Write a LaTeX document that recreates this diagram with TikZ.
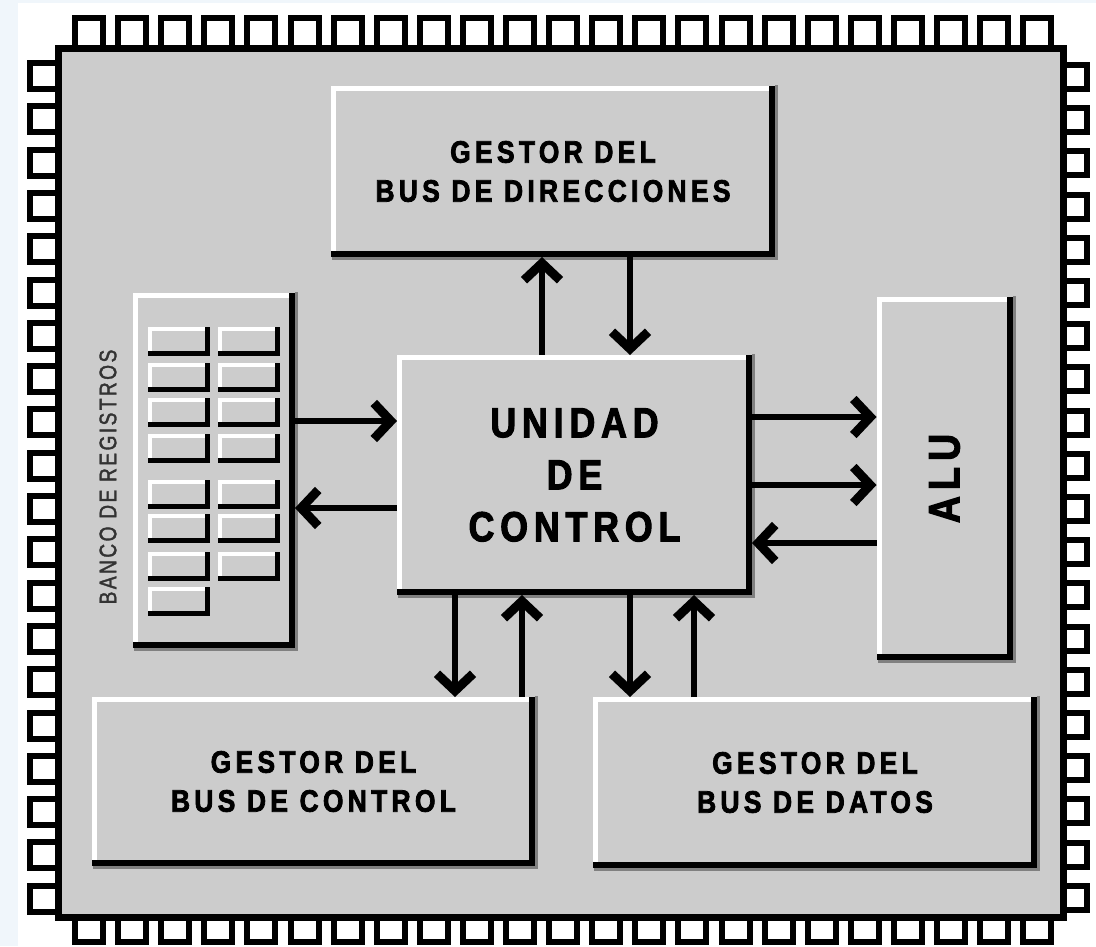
\documentclass[tikz,border=0pt]{standalone}
\usepackage{fontspec}
\usepackage{graphicx}
\usetikzlibrary{arrows.meta}
\newfontfamily\chipfont[LetterSpace=14,FakeStretch=0.85,BoldFeatures={FakeBold=2.5}]{Liberation Sans}
\newfontfamily\bancofont[LetterSpace=10,FakeStretch=0.8,FakeBold=1.5]{Liberation Sans}
\definecolor{chipgris}{RGB}{204,204,204}
\definecolor{fondo}{RGB}{240,246,251}
\definecolor{sombra}{RGB}{128,128,128}

\begin{document}
\begin{tikzpicture}[x=1pt, y=-1pt, % 以像素为单位，y 轴向下
    caja/.style={fill=chipgris, inner sep=0pt, outer sep=0pt, align=center},
    titulo/.style={font=\chipfont\bfseries\fontsize{31}{39}\selectfont},
    flecha/.style={line width=6.5pt, -{Straight Barb[length=17pt,width=36pt,line width=9pt]}}
  ]

    % 0. 背景：左侧浅蓝色细条，其余为白色
    \fill[fondo] (0,0) rectangle (1096,946);
    \fill[white] (18,3) rectangle (1096,946);
    \useasboundingbox (0,0) rectangle (1096,946);

    % 1. 芯片四周的引脚 (上下各 23 个，左右各 20 个)
    \foreach \i in {0,...,22}{
        \draw[line width=6pt, fill=white] ({75+43.1*\i}, 18) rectangle ({103+43.1*\i}, 50);
        \draw[line width=6pt, fill=white] ({75+43.1*\i}, 915) rectangle ({103+43.1*\i}, 942);
    }
    \foreach \j in {0,...,19}{
        \draw[line width=6pt, fill=white] (30, {63+43.3*\j}) rectangle (60, {89+43.3*\j});
        \draw[line width=6pt, fill=white] (1063, {65+43.2*\j}) rectangle (1087, {89+43.2*\j});
    }

    % 2. 芯片本体 (灰色，粗黑边框)
    \draw[line width=7pt, fill=chipgris] (58.5,48.5) rectangle (1063.5,917.5);

    % 3. 各功能模块
    \node[caja, titulo, minimum width=444pt, minimum height=171pt] (dir) at (553,171.5)
        {GESTOR DEL\\BUS DE DIRECCIONES};
    \node[caja, font=\chipfont\bfseries\fontsize{42}{52}\selectfont,
          minimum width=355pt, minimum height=240pt] (ctrl) at (574.5,475)
        {UNIDAD\\DE\\CONTROL};
    \node[caja, minimum width=162pt, minimum height=355pt] (banco) at (214,470.5) {};
    \node[caja, font=\chipfont\bfseries\fontsize{44}{44}\selectfont,
          minimum width=136pt, minimum height=363pt] (alu) at (944.5,478.5)
        {\rotatebox{90}{ALU}};
    \node[caja, titulo, minimum width=443pt, minimum height=169pt] (gctl) at (313.5,781.5)
        {GESTOR DEL\\BUS DE CONTROL};
    \node[caja, titulo, minimum width=444pt, minimum height=171pt] (gdat) at (815,782.5)
        {GESTOR DEL\\BUS DE DATOS};
    \node[font=\bancofont\fontsize{24}{24}\selectfont, text=black!80, rotate=90]
        (bancotxt) at (108,477) {BANCO DE REGISTROS};

    % 4. 立体边框：左上白色高光，右下黑边加灰色阴影
    \foreach \n in {dir,ctrl,banco,alu,gctl,gdat}{
        \draw[white, line width=5pt] ([xshift=2.5pt]\n.south west) -- ([xshift=2.5pt,yshift=-2.5pt]\n.north west)
            -- ([yshift=-2.5pt]\n.north east);
        \draw[sombra, line width=3pt] ([xshift=1.5pt,yshift=1pt]\n.north east)
            -- ([xshift=1.5pt,yshift=-1.5pt]\n.south east) -- ([xshift=1pt,yshift=-1.5pt]\n.south west);
        \draw[line width=6pt] ([xshift=-3pt]\n.north east) -- ([xshift=-3pt,yshift=3pt]\n.south east)
            -- ([yshift=3pt]\n.south west);
    }

    % 5. 寄存器组中的小寄存器 (左列 8 个，右列 7 个)
    \foreach \x/\filas in {148/{327,363,398,434,480,514,552,587}, 218/{327,363,398,434,480,514,552}}{
        \foreach \y in \filas{
            \draw[white, line width=4pt] ({\x+2},{\y+27}) -- ({\x+2},{\y+2}) -- ({\x+58},{\y+2});
            \draw[line width=5pt] ({\x+59.5},\y) -- ({\x+59.5},{\y+26.5}) -- (\x,{\y+26.5});
        }
    }

    % 6. 数据流箭头
    % 控制单元 <-> 地址总线管理器
    \draw[flecha] ([xshift=-32.5pt]ctrl.north) -- ([xshift=-32.5pt]ctrl.north |- dir.south);
    \draw[flecha] ([xshift=55.5pt]ctrl.north |- dir.south) -- ([xshift=55.5pt]ctrl.north);
    % 寄存器组 <-> 控制单元
    \draw[flecha] ([yshift=54pt]ctrl.west -| banco.east) -- ([yshift=54pt]ctrl.west);
    \draw[flecha] ([yshift=-33pt]ctrl.west) -- ([yshift=-33pt]ctrl.west -| banco.east);
    % 控制单元 <-> ALU
    \draw[flecha] ([yshift=58pt]ctrl.east) -- ([yshift=58pt]ctrl.east -| alu.west);
    \draw[flecha] ([yshift=-10pt]ctrl.east) -- ([yshift=-10pt]ctrl.east -| alu.west);
    \draw[flecha] ([yshift=-68pt]ctrl.east -| alu.west) -- ([yshift=-68pt]ctrl.east);
    % 控制单元 <-> 控制总线 / 数据总线管理器
    \draw[flecha] ([xshift=-119.5pt]ctrl.south) -- ([xshift=-119.5pt]ctrl.south |- gctl.north);
    \draw[flecha] ([xshift=-52.5pt]ctrl.south |- gctl.north) -- ([xshift=-52.5pt]ctrl.south);
    \draw[flecha] ([xshift=55.5pt]ctrl.south) -- ([xshift=55.5pt]ctrl.south |- gdat.north);
    \draw[flecha] ([xshift=119.5pt]ctrl.south |- gdat.north) -- ([xshift=119.5pt]ctrl.south);

\end{tikzpicture}
\end{document}
